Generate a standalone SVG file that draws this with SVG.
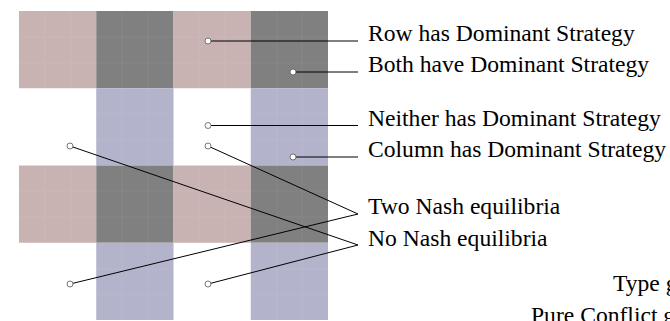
<svg xmlns="http://www.w3.org/2000/svg" width="670" height="321" viewBox="0 0 670 321">
<style>
.pink{fill:#c9b2b2}
.gray{fill:#808080}
.blue{fill:#b3b3cc}
.grid{stroke:#ffffff;stroke-opacity:0.06;stroke-width:1;fill:none}
.dot{fill:#ffffff;stroke:#555555;stroke-width:0.8}
.lead{stroke:#000000;stroke-width:1;fill:none}
.lbl{font-family:"Liberation Serif","Times New Roman",serif;font-size:23.6px;fill:#000000}
</style>
<rect width="670" height="321" fill="#ffffff"/>
<g id="matrix">
<rect class="pink" x="19" y="11" width="77.25" height="77.25"/>
<rect class="gray" x="96.25" y="11" width="77.25" height="77.25"/>
<rect class="pink" x="173.5" y="11" width="77.25" height="77.25"/>
<rect class="gray" x="250.75" y="11" width="77.25" height="77.25"/>
<rect class="blue" x="96.25" y="88.25" width="77.25" height="77.25"/>
<rect class="blue" x="250.75" y="88.25" width="77.25" height="77.25"/>
<rect class="pink" x="19" y="165.5" width="77.25" height="77.25"/>
<rect class="gray" x="96.25" y="165.5" width="77.25" height="77.25"/>
<rect class="pink" x="173.5" y="165.5" width="77.25" height="77.25"/>
<rect class="gray" x="250.75" y="165.5" width="77.25" height="77.25"/>
<rect class="blue" x="96.25" y="242.75" width="77.25" height="77.25"/>
<rect class="blue" x="250.75" y="242.75" width="77.25" height="77.25"/>
<path class="grid" d="M45,11V320M71,11V320M122,11V320M148,11V320M199,11V320M225,11V320M277,11V320M302,11V320M19,37H328M19,63H328M19,114H328M19,140H328M19,191H328M19,217H328M19,269H328M19,294H328"/>
</g>
<g id="connectors">
<line class="lead" x1="208" y1="41" x2="358" y2="41"/>
<line class="lead" x1="293" y1="72" x2="358" y2="72"/>
<line class="lead" x1="208" y1="125.5" x2="358" y2="125.5"/>
<line class="lead" x1="293" y1="157" x2="358" y2="157"/>
<polyline class="lead" points="208,146 358,214 70,284"/>
<polyline class="lead" points="70,146 358,245 208,284"/>
</g>
<g id="node-row">
<circle class="dot" cx="208" cy="41" r="3"/>
<text class="lbl" x="368" y="41">Row has Dominant Strategy</text>
</g>
<g id="node-both">
<circle class="dot" cx="293" cy="72" r="3"/>
<text class="lbl" x="368" y="72">Both have Dominant Strategy</text>
</g>
<g id="node-neither">
<circle class="dot" cx="208" cy="125.5" r="3"/>
<text class="lbl" x="368" y="126">Neither has Dominant Strategy</text>
</g>
<g id="node-column">
<circle class="dot" cx="293" cy="157" r="3"/>
<text class="lbl" x="368" y="157">Column has Dominant Strategy</text>
</g>
<g id="node-two-nash">
<circle class="dot" cx="208" cy="146" r="3"/>
<circle class="dot" cx="70" cy="284" r="3"/>
<text class="lbl" x="368" y="214">Two Nash equilibria</text>
</g>
<g id="node-no-nash">
<circle class="dot" cx="70" cy="146" r="3"/>
<circle class="dot" cx="208" cy="284" r="3"/>
<text class="lbl" x="368" y="246">No Nash equilibria</text>
</g>
<g id="node-type">
<text class="lbl" x="613" y="291">Type g</text>
</g>
<g id="node-pure">
<text class="lbl" x="531" y="323">Pure Conflict g</text>
</g>
</svg>
